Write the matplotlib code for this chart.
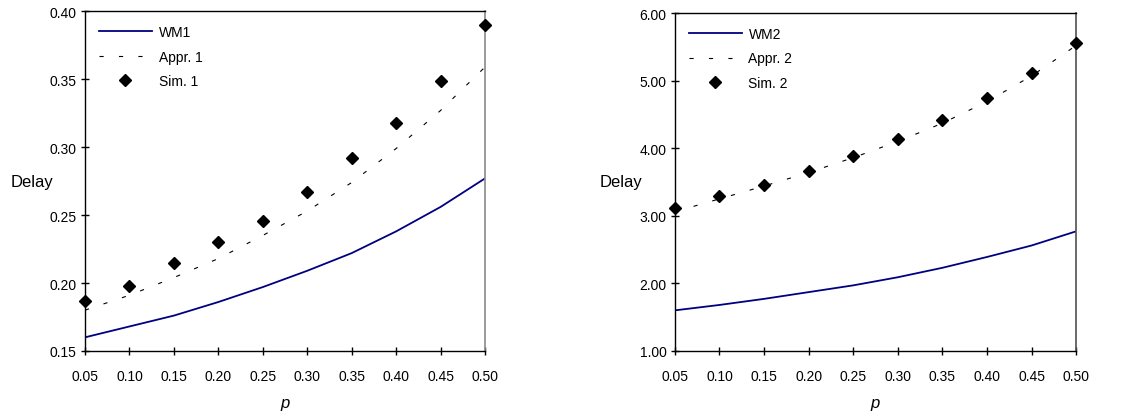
import matplotlib
matplotlib.use("Agg")
import matplotlib.pyplot as plt

plt.rcParams['font.family'] = ['Liberation Sans', 'DejaVu Sans']
plt.rcParams['lines.scale_dashes'] = False

p = [0.05, 0.10, 0.15, 0.20, 0.25, 0.30, 0.35, 0.40, 0.45, 0.50]
xtick_labels = ["0.05", "0.10", "0.15", "0.20", "0.25", "0.30", "0.35", "0.40", "0.45", "0.50"]

wm1 = [0.160, 0.168, 0.176, 0.186, 0.197, 0.209, 0.222, 0.238, 0.256, 0.277]
appr1 = [0.180, 0.191, 0.204, 0.218, 0.235, 0.253, 0.274, 0.299, 0.327, 0.359]
sim1 = [0.187, 0.198, 0.215, 0.230, 0.246, 0.267, 0.292, 0.318, 0.349, 0.390]

wm2 = [1.60, 1.68, 1.77, 1.87, 1.97, 2.09, 2.23, 2.39, 2.56, 2.77]
appr2 = [3.06, 3.25, 3.44, 3.64, 3.86, 4.10, 4.37, 4.69, 5.07, 5.52]
sim2 = [3.12, 3.29, 3.46, 3.66, 3.89, 4.14, 4.42, 4.75, 5.12, 5.56]

yticks1 = [0.15, 0.20, 0.25, 0.30, 0.35, 0.40]
yticks2 = [1.0, 2.0, 3.0, 4.0, 5.0, 6.0]

fig = plt.figure(figsize=(11.4, 4.14), dpi=100)
ax1 = fig.add_axes([0.0746, 0.150, 0.3508, 0.820])
ax2 = fig.add_axes([0.592, 0.150, 0.352, 0.816])

panels = [
    (ax1, wm1, appr1, sim1, "WM1", "Appr. 1", "Sim. 1", yticks1, "#8a8a8a"),
    (ax2, wm2, appr2, sim2, "WM2", "Appr. 2", "Sim. 2", yticks2, "#505050"),
]

for ax, wm, ap, sm, l1, l2, l3, yt, rcol in panels:
    ax.plot(p, wm, color="#000080", lw=1.3, label=l1)
    ax.plot(p, ap, color="black", lw=0.8, dashes=(3, 11), label=l2)
    ax.plot(p, sm, linestyle="none", marker="D", markersize=6.5, color="black",
            label=l3, clip_on=False, zorder=5)
    ax.set_xlim(0.05, 0.50)
    ax.set_ylim(yt[0], yt[-1])
    ax.set_xticks(p)
    ax.set_xticklabels(xtick_labels)
    ax.set_yticks(yt)
    ax.set_yticklabels(["{:.2f}".format(v) for v in yt])
    ax.tick_params(axis="x", direction="inout", length=6, width=1, labelsize=10, pad=10)
    ax.tick_params(axis="y", direction="inout", length=6, width=1, labelsize=10, pad=3)
    for s in ["left", "bottom", "top"]:
        ax.spines[s].set_color("black")
        ax.spines[s].set_linewidth(1.0)
    ax.spines["right"].set_color(rcol)
    ax.spines["right"].set_linewidth(1.2)
    ax.set_xlabel("p", fontstyle="italic", fontsize=12, labelpad=9)
    ax.set_ylabel("Delay", rotation=0, fontsize=12, labelpad=13, va="center")
    ax.legend(loc="upper left", frameon=False, fontsize=10, handlelength=3.8,
              handletextpad=0.5, labelspacing=0.75, borderaxespad=0.6,
              borderpad=0.4)

fig.savefig("out.png", dpi=100)
